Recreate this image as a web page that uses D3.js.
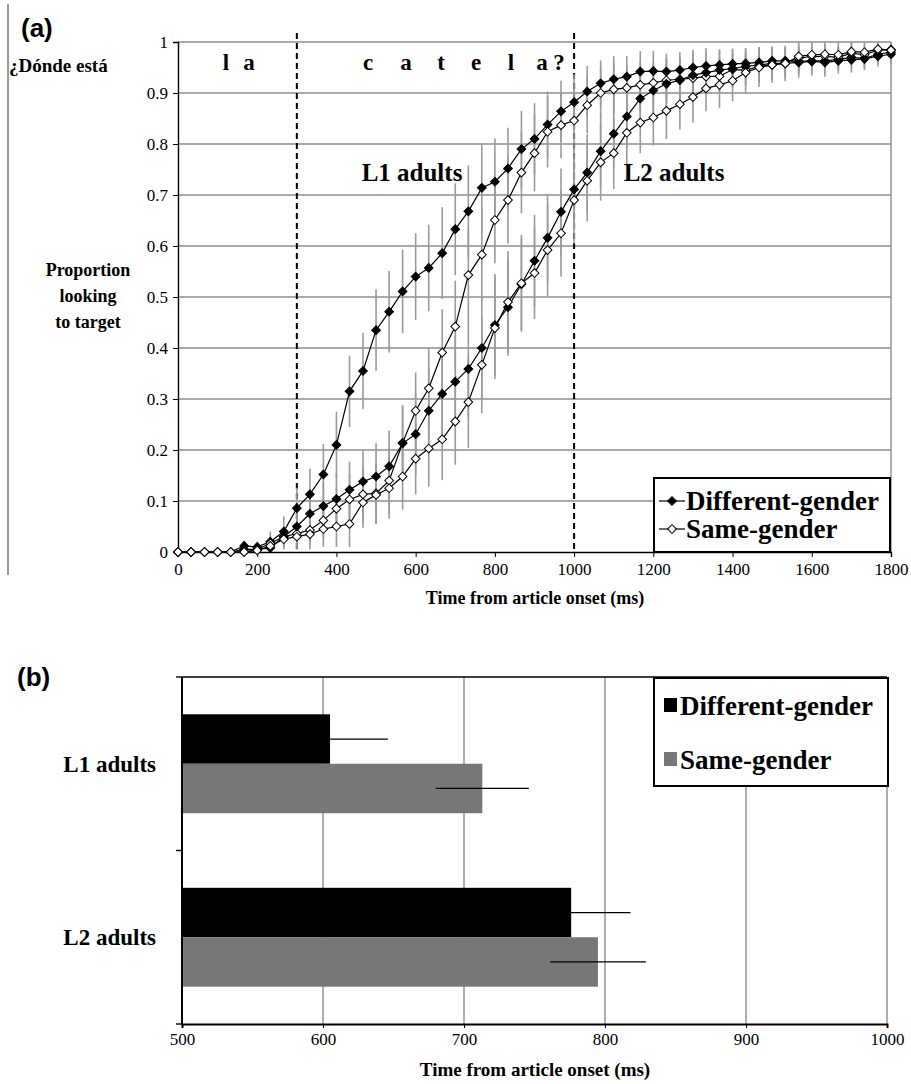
<!DOCTYPE html>
<html>
<head>
<meta charset="utf-8">
<script src="https://cdn.jsdelivr.net/npm/d3@7"></script>
<style>
  body { margin: 0; background: #fff; }
  svg { display: block; }
  text { font-family: "Liberation Serif", "Times New Roman", serif; fill: #000; }
</style>
</head>
<body>
<svg id="chart"></svg>
<script>
// ---- panel (a) data: proportion looking to target ----
const times = [0,33,67,100,133,167,200,233,267,300,333,367,400,433,467,500,533,567,600,633,
  667,700,733,767,800,833,867,900,933,967,1000,1033,1067,1100,1133,1167,1200,1233,1267,1300,
  1333,1367,1400,1433,1467,1500,1533,1567,1600,1633,1667,1700,1733,1767,1800];

const l1Diff = [0,0,0,0,0,0.012,0.01,0.02,0.04,0.086,0.113,0.152,0.21,0.315,0.355,0.435,0.471,0.511,0.54,0.557,
  0.586,0.633,0.668,0.714,0.726,0.752,0.79,0.81,0.838,0.864,0.882,0.903,0.919,0.927,0.932,0.942,0.943,0.942,0.945,0.95,
  0.953,0.955,0.957,0.958,0.96,0.963,0.963,0.962,0.963,0.963,0.966,0.97,0.968,0.976,0.98];
const l1Same = [0,0,0,0,0,0,0.005,0.017,0.03,0.036,0.043,0.062,0.085,0.103,0.113,0.115,0.14,0.214,0.277,0.321,
  0.391,0.442,0.543,0.583,0.651,0.69,0.744,0.782,0.824,0.837,0.846,0.876,0.9,0.907,0.91,0.916,0.92,0.925,0.927,0.929,
  0.932,0.933,0.946,0.945,0.952,0.955,0.96,0.968,0.972,0.972,0.97,0.978,0.975,0.984,0.985];
const l2Diff = [0,0,0,0,0,0.005,0.005,0.008,0.03,0.05,0.075,0.09,0.104,0.122,0.138,0.148,0.168,0.213,0.231,0.277,
  0.31,0.334,0.359,0.4,0.445,0.48,0.525,0.571,0.616,0.667,0.711,0.744,0.786,0.82,0.854,0.889,0.905,0.918,0.925,0.935,
  0.94,0.945,0.948,0.952,0.955,0.958,0.958,0.96,0.962,0.96,0.963,0.965,0.967,0.972,0.976];
const l2Same = [0,0,0,0,0,0,0.003,0.012,0.025,0.03,0.035,0.045,0.05,0.055,0.097,0.112,0.125,0.148,0.183,0.203,
  0.221,0.256,0.294,0.367,0.439,0.49,0.527,0.547,0.592,0.625,0.69,0.728,0.764,0.782,0.822,0.842,0.852,0.865,0.878,0.892,
  0.909,0.916,0.924,0.94,0.95,0.955,0.958,0.972,0.975,0.976,0.975,0.981,0.98,0.986,0.984];

// half-length of the error bars
const l1DiffErr = [0,0,0,0,0,0.01,0.01,0.02,0.03,0.04,0.05,0.06,0.065,0.07,0.075,0.08,0.08,0.082,0.085,0.085,
  0.09,0.09,0.09,0.088,0.085,0.08,0.075,0.07,0.065,0.06,0.055,0.05,0.045,0.045,0.04,0.04,0.04,0.035,0.035,0.035,
  0.035,0.03,0.03,0.03,0.03,0.028,0.028,0.025,0.025,0.025,0.022,0.022,0.02,0.018,0.015];
const l1SameErr = [0,0,0,0,0,0,0.01,0.015,0.02,0.025,0.03,0.035,0.04,0.05,0.055,0.06,0.065,0.07,0.075,0.08,
  0.085,0.09,0.09,0.09,0.085,0.085,0.08,0.075,0.07,0.065,0.06,0.055,0.05,0.05,0.045,0.045,0.04,0.04,0.04,0.035,
  0.035,0.035,0.03,0.03,0.03,0.028,0.028,0.025,0.025,0.022,0.022,0.02,0.02,0.018,0.015];
const l2DiffErr = [0,0,0,0,0,0,0.01,0.015,0.02,0.03,0.04,0.045,0.05,0.055,0.06,0.065,0.07,0.075,0.08,0.085,
  0.09,0.09,0.095,0.1,0.1,0.095,0.09,0.09,0.085,0.085,0.08,0.075,0.07,0.065,0.06,0.055,0.05,0.05,0.045,0.045,
  0.04,0.04,0.038,0.035,0.035,0.032,0.03,0.03,0.028,0.028,0.025,0.025,0.022,0.02,0.018];
const l2SameErr = [0,0,0,0,0,0,0.01,0.015,0.02,0.025,0.03,0.035,0.04,0.045,0.05,0.055,0.06,0.065,0.07,0.075,
  0.08,0.085,0.09,0.095,0.1,0.1,0.095,0.09,0.09,0.085,0.085,0.08,0.075,0.07,0.065,0.06,0.055,0.055,0.05,0.05,
  0.045,0.045,0.04,0.04,0.038,0.035,0.035,0.032,0.03,0.03,0.028,0.025,0.025,0.022,0.02];

const yTicksA = [0,0.1,0.2,0.3,0.4,0.5,0.6,0.7,0.8,0.9,1];
const xTicksA = [0,200,400,600,800,1000,1200,1400,1600,1800];
const boundaries = [300, 1000];
const article = [["l", 226], ["a", 249]];
const noun = [["c", 368], ["a", 406], ["t", 441], ["e", 476], ["l", 511], ["a", 542], ["?", 559]];

// ---- panel (b) data: mean time ----
const groups = ["L1 adults", "L2 adults"];
const diffMean = [605, 776];
const sameMean = [713, 795];
const diffErr = [41, 42];
const sameErr = [33, 34];
const xTicksB = [500, 600, 700, 800, 900, 1000];

const width = 911, height = 1084;
const svg = d3.select("#chart").attr("width", width).attr("height", height);

// left edge rule of the figure
svg.append("line").attr("x1", 8).attr("x2", 8).attr("y1", 4).attr("y2", 575)
  .attr("stroke", "#555").attr("stroke-width", 1.2);

// ================= panel (a) =================
const xA = d3.scaleLinear().domain([0, 1800]).range([178, 891]);
const yA = d3.scaleLinear().domain([0, 1]).range([552, 42]);

const gA = svg.append("g");

// horizontal gridlines
gA.selectAll(".grid").data(yTicksA.slice(1)).enter().append("line")
  .attr("x1", xA(0)).attr("x2", xA(1800))
  .attr("y1", d => yA(d)).attr("y2", d => yA(d))
  .attr("stroke", "#8c8c8c").attr("stroke-width", 1.4);
gA.append("line").attr("x1", xA(1800)).attr("x2", xA(1800)).attr("y1", yA(1)).attr("y2", yA(0))
  .attr("stroke", "#8c8c8c").attr("stroke-width", 1.4);

// word boundaries
gA.selectAll(".bound").data(boundaries).enter().append("line")
  .attr("x1", d => xA(d)).attr("x2", d => xA(d))
  .attr("y1", 33).attr("y2", yA(0))
  .attr("stroke", "#000").attr("stroke-width", 2).attr("stroke-dasharray", "6,4");

// axes
const yAxisA = d3.axisLeft(yA).tickValues(yTicksA).tickSize(5).tickFormat(d => d === 0 || d === 1 ? d : d3.format(".1f")(d));
gA.append("g").attr("transform", `translate(${xA(0)},0)`).call(yAxisA)
  .call(g => g.selectAll("text").attr("x", -10).style("font-size", "17px").style("font-family", "Liberation Serif"))
  .call(g => g.select(".domain").attr("stroke-width", 1.4));
const xAxisA = d3.axisBottom(xA).tickValues(xTicksA).tickSize(5).tickFormat(d3.format("d"));
gA.append("g").attr("transform", `translate(0,${yA(0)})`).call(xAxisA)
  .call(g => g.selectAll("text").attr("y", 11).style("font-size", "17px").style("font-family", "Liberation Serif"))
  .call(g => g.select(".domain").attr("stroke-width", 1.4));

const series = [
  { v: l1Diff, e: l1DiffErr, filled: true },
  { v: l1Same, e: l1SameErr, filled: false },
  { v: l2Diff, e: l2DiffErr, filled: true },
  { v: l2Same, e: l2SameErr, filled: false }
];

// error bars
series.forEach(s => {
  gA.append("g").selectAll("line").data(times).enter().append("line")
    .attr("x1", d => xA(d)).attr("x2", d => xA(d))
    .attr("y1", (d, i) => yA(Math.min(1.0, s.v[i] + s.e[i])))
    .attr("y2", (d, i) => yA(Math.max(0, s.v[i] - s.e[i])))
    .attr("stroke", "#9a9a9a").attr("stroke-width", 1.6);
});

const line = d3.line().x((d, i) => xA(times[i])).y(d => yA(d));
const diamond = d3.symbol().type(d3.symbolSquare).size(38);

series.forEach(s => {
  gA.append("path").datum(s.v).attr("d", line)
    .attr("fill", "none").attr("stroke", "#000").attr("stroke-width", 1.2);
});
series.forEach(s => {
  gA.append("g").selectAll("path").data(s.v).enter().append("path")
    .attr("d", diamond)
    .attr("transform", (d, i) => `translate(${xA(times[i])},${yA(d)}) rotate(45)`)
    .attr("fill", s.filled ? "#000" : "#fff")
    .attr("stroke", "#000").attr("stroke-width", 1);
});

// annotations
svg.append("text").attr("x", 21).attr("y", 37).text("(a)")
  .style("font-family", "Liberation Sans").style("font-weight", "bold").style("font-size", "26px");
svg.append("text").attr("x", 9).attr("y", 72).text("¿Dónde está")
  .style("font-weight", "bold").style("font-size", "19px");
article.concat(noun).forEach(([ch, x]) => {
  svg.append("text").attr("x", x).attr("y", 70).attr("text-anchor", "middle").text(ch)
    .style("font-weight", "bold").style("font-size", "23px");
});
["Proportion", "looking", "to target"].forEach((t, i) => {
  svg.append("text").attr("x", 88).attr("y", 276 + i * 26).attr("text-anchor", "middle").text(t)
    .style("font-weight", "bold").style("font-size", "18px");
});
svg.append("text").attr("x", 412).attr("y", 181).attr("text-anchor", "middle").text("L1 adults")
  .style("font-weight", "bold").style("font-size", "25px");
svg.append("text").attr("x", 674).attr("y", 181).attr("text-anchor", "middle").text("L2 adults")
  .style("font-weight", "bold").style("font-size", "25px");
svg.append("text").attr("x", 535).attr("y", 604).attr("text-anchor", "middle").text("Time from article onset (ms)")
  .style("font-weight", "bold").style("font-size", "18px");

// legend (a)
const legA = svg.append("g");
legA.append("rect").attr("x", 654).attr("y", 478).attr("width", 236).attr("height", 74)
  .attr("fill", "#fff").attr("stroke", "#000").attr("stroke-width", 2);
[["Different-gender", true, 501], ["Same-gender", false, 529]].forEach(([label, filled, y]) => {
  legA.append("line").attr("x1", 659).attr("x2", 685).attr("y1", y).attr("y2", y).attr("stroke", "#000").attr("stroke-width", 1.2);
  legA.append("path").attr("d", diamond).attr("transform", `translate(672,${y}) rotate(45)`)
    .attr("fill", filled ? "#000" : "#fff").attr("stroke", "#000");
  legA.append("text").attr("x", 686).attr("y", y + 9).text(label)
    .style("font-weight", "bold").style("font-size", "27px");
});

// ================= panel (b) =================
const xB = d3.scaleLinear().domain([500, 1000]).range([182, 887]);
const yB = d3.scaleBand().domain(groups).range([677, 1024]).paddingInner(0.43).paddingOuter(0.215);
const sub = d3.scaleBand().domain(["diff", "same"]).range([0, yB.bandwidth()]);

const gB = svg.append("g");
gB.selectAll(".vgrid").data(xTicksB.slice(1)).enter().append("line")
  .attr("x1", d => xB(d)).attr("x2", d => xB(d)).attr("y1", 677).attr("y2", 1024)
  .attr("stroke", "#8c8c8c").attr("stroke-width", 1.4);
gB.append("line").attr("x1", xB(500)).attr("x2", xB(1000)).attr("y1", 677).attr("y2", 677)
  .attr("stroke", "#000").attr("stroke-width", 1.6);

gB.selectAll(".bd").data(groups).enter().append("rect")
  .attr("x", xB(500)).attr("y", d => yB(d) + sub("diff"))
  .attr("width", (d, i) => xB(diffMean[i]) - xB(500)).attr("height", sub.bandwidth())
  .attr("fill", "#000");
gB.selectAll(".bs").data(groups).enter().append("rect")
  .attr("x", xB(500)).attr("y", d => yB(d) + sub("same"))
  .attr("width", (d, i) => xB(sameMean[i]) - xB(500)).attr("height", sub.bandwidth())
  .attr("fill", "#777");
gB.selectAll(".ed").data(groups).enter().append("line")
  .attr("x1", (d, i) => xB(diffMean[i] - diffErr[i])).attr("x2", (d, i) => xB(diffMean[i] + diffErr[i]))
  .attr("y1", d => yB(d) + sub("diff") + sub.bandwidth() / 2).attr("y2", d => yB(d) + sub("diff") + sub.bandwidth() / 2)
  .attr("stroke", "#000").attr("stroke-width", 1.3);
gB.selectAll(".es").data(groups).enter().append("line")
  .attr("x1", (d, i) => xB(sameMean[i] - sameErr[i])).attr("x2", (d, i) => xB(sameMean[i] + sameErr[i]))
  .attr("y1", d => yB(d) + sub("same") + sub.bandwidth() / 2).attr("y2", d => yB(d) + sub("same") + sub.bandwidth() / 2)
  .attr("stroke", "#000").attr("stroke-width", 1.3);

// axes (b)
gB.append("line").attr("x1", xB(500)).attr("x2", xB(500)).attr("y1", 677).attr("y2", 1024)
  .attr("stroke", "#000").attr("stroke-width", 2);
const bounds = [677, 677 + yB.step(), 1024];
gB.selectAll(".ct").data(bounds).enter().append("line")
  .attr("x1", xB(500) - 6).attr("x2", xB(500)).attr("y1", d => d).attr("y2", d => d)
  .attr("stroke", "#000").attr("stroke-width", 1.4);
gB.selectAll(".cl").data(groups).enter().append("text")
  .attr("x", 156).attr("y", d => yB(d) + yB.bandwidth() / 2 + 8).attr("text-anchor", "end").text(d => d)
  .style("font-weight", "bold").style("font-size", "23px");
const xAxisB = d3.axisBottom(xB).tickValues(xTicksB).tickSize(4).tickFormat(d3.format("d"));
gB.append("g").attr("transform", "translate(0,1024)").call(xAxisB)
  .call(g => g.selectAll("text").attr("y", 9).style("font-size", "17px").style("font-family", "Liberation Serif"))
  .call(g => g.select(".domain").attr("stroke-width", 2));
svg.append("text").attr("x", 535).attr("y", 1076).attr("text-anchor", "middle").text("Time from article onset (ms)")
  .style("font-weight", "bold").style("font-size", "19px");
svg.append("text").attr("x", 17).attr("y", 686).text("(b)")
  .style("font-family", "Liberation Sans").style("font-weight", "bold").style("font-size", "26px");

// legend (b)
const legB = svg.append("g");
legB.append("rect").attr("x", 654).attr("y", 678).attr("width", 234).attr("height", 108)
  .attr("fill", "#fff").attr("stroke", "#000").attr("stroke-width", 2);
[["Different-gender", "#000", 706], ["Same-gender", "#777", 760]].forEach(([label, c, y]) => {
  legB.append("rect").attr("x", 664).attr("y", y - 8).attr("width", 13).attr("height", 14).attr("fill", c);
  legB.append("text").attr("x", 680).attr("y", y + 9).text(label)
    .style("font-weight", "bold").style("font-size", "27px");
});
</script>
</body>
</html>
